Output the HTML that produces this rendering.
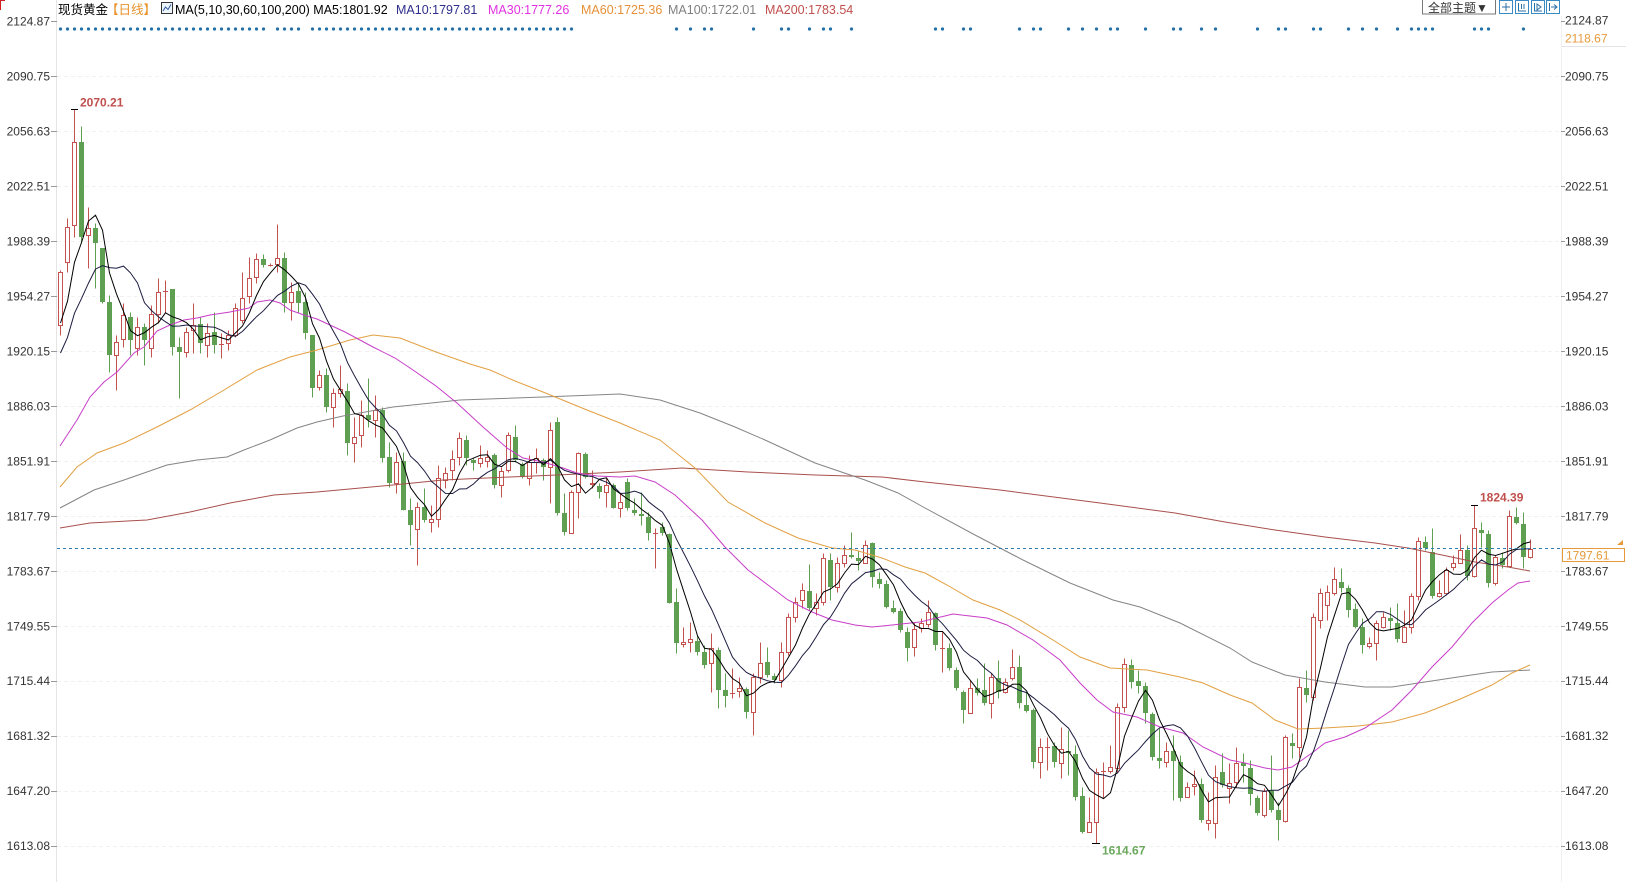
<!DOCTYPE html>
<html><head><meta charset="utf-8">
<style>
html,body{margin:0;padding:0;background:#fff;}
svg{display:block;}
text{font-family:"Liberation Sans","Noto Sans CJK SC",sans-serif;}
</style></head>
<body>
<svg id="c" width="1626" height="882" viewBox="0 0 1626 882" xmlns="http://www.w3.org/2000/svg">
<rect width="1626" height="882" fill="#fff"/>
<g id="grid" stroke="#f1f1f1" stroke-width="1" stroke-dasharray="4 3"></g>
<line x1="56.5" y1="0" x2="56.5" y2="882" stroke="#e4e4e4"/>
<line x1="1561.5" y1="16" x2="1561.5" y2="882" stroke="#f0f0f0"/>
<path d="M0 0.5H5M0.5 0V10" stroke="#d02020" stroke-width="1"/>

<!-- header -->
<text x="58" y="14" font-size="12.5" fill="#000">现货黄金</text>
<text x="106" y="14" font-size="12.5" fill="#e8922a">【日线】</text>
<rect x="161.5" y="2.5" width="11" height="11" fill="#eef4fb" stroke="#333"/>
<polyline points="163,11 165.5,7 168,9.5 171,4.5" fill="none" stroke="#2a5aa8" stroke-width="1"/>
<text x="175" y="14" font-size="12.5" fill="#000">MA(5,10,30,60,100,200) MA5:1801.92</text>
<text x="396" y="14" font-size="12.5" fill="#2e2e8e">MA10:1797.81</text>
<text x="488" y="14" font-size="12.5" fill="#e032e0">MA30:1777.26</text>
<text x="581" y="14" font-size="12.5" fill="#e69138">MA60:1725.36</text>
<text x="668" y="14" font-size="12.5" fill="#808080">MA100:1722.01</text>
<text x="765" y="14" font-size="12.5" fill="#c0504d">MA200:1783.54</text>

<!-- top right controls -->
<rect x="1422.5" y="-0.5" width="73" height="14.5" fill="#fff" stroke="#777"/>
<text x="1428" y="12" font-size="12" fill="#333">全部主题▼</text>
<g fill="#fff" stroke="#3a8ac4" stroke-width="1">
<rect x="1499.5" y="0.5" width="13" height="13"/>
<rect x="1515.5" y="0.5" width="13" height="13"/>
<rect x="1531.5" y="0.5" width="13" height="13"/>
<rect x="1546.5" y="0.5" width="13" height="13"/>
</g>
<g stroke="#2a6fa8" stroke-width="1" fill="none">
<path d="M1506 3V11M1502 7H1510"/>
<path d="M1518.5 3V11H1526M1521.5 4V9M1524 4V9"/>
<path d="M1534.5 3V11H1542M1537 4L1541 7L1537 10Z"/>
<path d="M1549.5 3V11M1551 7H1557M1554 4.5L1557 7L1554 9.5"/>
</g>

<!-- dots -->
<g id="dots" fill="#236fa6"></g>

<!-- axis labels -->
<g id="axl" font-size="12" fill="#333"></g>

<!-- candles and MAs -->
<g id="cand"></g>
<g id="mas" fill="none" stroke-width="1"></g>

<!-- current price line -->
<line x1="57" y1="548.5" x2="1562" y2="548.5" stroke="#2e7cb0" stroke-dasharray="3 3"/>
<rect x="1562.5" y="548.5" width="62" height="13" fill="#fff" stroke="#e69a3c"/>
<text x="1566" y="559.5" font-size="12" fill="#e69a3c">1797.61</text>
<path d="M1617 545L1623 540L1623 545Z" fill="#e69a3c"/>

<!-- right-top orange label -->
<line x1="1562" y1="46.5" x2="1626" y2="46.5" stroke="#e4e4e4"/>
<text x="1565" y="42.3" font-size="12" fill="#e69a3c">2118.67</text>

<!-- high/low markers -->
<path d="M71 109.5H78M1092 843.5H1100M1471 505.5H1478" stroke="#000" stroke-width="1"/>
<text x="80" y="106.5" font-size="12" font-weight="bold" fill="#c0504d">2070.21</text>
<text x="1102" y="854.5" font-size="12" font-weight="bold" fill="#6aa85c">1614.67</text>
<text x="1480" y="501.5" font-size="12" font-weight="bold" fill="#c0504d">1824.39</text>

<g font-size="12" fill="#333">
<text x="50" y="25.5" text-anchor="end">2124.87</text>
<text x="50" y="80.5" text-anchor="end">2090.75</text>
<text x="50" y="135.5" text-anchor="end">2056.63</text>
<text x="50" y="190.4" text-anchor="end">2022.51</text>
<text x="50" y="245.4" text-anchor="end">1988.39</text>
<text x="50" y="300.4" text-anchor="end">1954.27</text>
<text x="50" y="355.4" text-anchor="end">1920.15</text>
<text x="50" y="410.4" text-anchor="end">1886.03</text>
<text x="50" y="465.3" text-anchor="end">1851.91</text>
<text x="50" y="520.3" text-anchor="end">1817.79</text>
<text x="50" y="575.3" text-anchor="end">1783.67</text>
<text x="50" y="630.3" text-anchor="end">1749.55</text>
<text x="50" y="685.2" text-anchor="end">1715.44</text>
<text x="50" y="740.2" text-anchor="end">1681.32</text>
<text x="50" y="795.2" text-anchor="end">1647.20</text>
<text x="50" y="850.2" text-anchor="end">1613.08</text>
<text x="1565" y="24.5">2124.87</text>
<text x="1565" y="80.5">2090.75</text>
<text x="1565" y="135.5">2056.63</text>
<text x="1565" y="190.4">2022.51</text>
<text x="1565" y="245.4">1988.39</text>
<text x="1565" y="300.4">1954.27</text>
<text x="1565" y="355.4">1920.15</text>
<text x="1565" y="410.4">1886.03</text>
<text x="1565" y="465.3">1851.91</text>
<text x="1565" y="520.3">1817.79</text>
<text x="1565" y="575.3">1783.67</text>
<text x="1565" y="630.3">1749.55</text>
<text x="1565" y="685.2">1715.44</text>
<text x="1565" y="740.2">1681.32</text>
<text x="1565" y="795.2">1647.20</text>
<text x="1565" y="850.2">1613.08</text>
</g>
</svg>
<script>
(function(){
var TY=[21.2,76.2,131.2,186.1,241.1,296.1,351.1,406.1,461.0,516.0,571.0,626.0,680.9,735.9,790.9,845.9];
var g='';var tk='';
TY.forEach(function(y,k){var yy=Math.round(y)+0.5;
 if(k>0)g+='<line x1="57" y1="'+yy+'" x2="1561" y2="'+yy+'"/>';
 tk+='M51 '+yy+'H57M1561 '+yy+'H1565';});
document.getElementById('grid').innerHTML=g;
document.getElementById('axl').innerHTML='<path d="'+tk+'" stroke="#999" stroke-width="1"/>';

var D=[
[1,270,271.7,325,335],[1,218,226.7,261.7,272],[1,109,141.7,225,236.7],[0,126,141.7,236.7,243],[1,206.7,228,235,268],
[0,223,228,242.7,288],[0,248,248,302,303],[0,295,302,355,372],[1,335,341.7,355,390],[1,303,315,339,347],
[0,311.7,316.7,340,355],[1,317,327,348,355],[0,323,327,340,365],[1,305,314,348,357],[1,277.7,292,314,323],
[1,280,291,291,312],[0,289,289,347,355],[0,336.7,347,352,398],[1,326.7,331.7,352,356.7],[1,303,325,330,353],
[0,317,324,343,353],[1,323,332.7,345,356.7],[0,311.7,331.7,345,353],[1,333,344,344,358],[1,330,335,343,350],
[1,303,308,335,337],[1,271.7,298,320,323],[1,256.7,277.7,296,303],[1,252.7,259,276.7,282.7],[0,254,259,265,267],
[1,263,264.5,264.5,266],[1,224,257.7,264.3,271.7],[0,251.7,257.7,303,311.7],[1,281.7,291.7,302.3,320],[0,282.7,291,303,311.7],
[0,291.7,301.7,333,339],[0,335,335,387.7,396.7],
[1,370,375,387,390],[0,368,375,406.7,411.7],[1,388,392.7,406.7,426.7],[1,365,389,392.7,396.7],[0,383,391,443,455],
[1,416.7,436.7,443,461.7],[1,400,415,435,446.7],[0,378,415,420,426.7],[1,395,410,420,436.7],[0,406.7,410,458,461.7],
[0,441.7,456.7,483,486.7],[1,451.7,461.7,483,493],[0,451.7,460.7,510,510],[0,498,510,525,545],[1,501.7,507,529,565],
[0,488,506.7,520,521.7],[1,505,519,522,531.7],[1,465,478,519,526.7],[1,466.7,472.7,480,488],[1,450,459,470,480],
[1,431.7,438,457,465],[0,435,440,458,465],[0,458,460,463,470],[1,445,458,463,467],[1,450,457,460.7,467],
[0,453,455,485,488],[1,466.7,470.7,485,496.7],[1,431.7,435,470,471.7],[0,425,436.7,460,461.7],[0,461.7,464,477,478],
[1,455,461.7,478,485],[1,448,458,461.7,473],[0,458,460,466.7,480],[1,421.7,430,466.7,503],[0,416.7,421.7,513,515],
[0,493,513,531.7,535],[1,490,491.7,533.3,533.3],[1,451.7,453,491.7,518],[0,451.7,454,476.7,478],[1,470,482.7,484,488],
[0,483,486,491.7,498],[1,478,485,491.7,506.7],[0,483,485,508,508],
[1,493,501.7,508.3,516.7],[0,478,481.7,508.3,510],[0,498,510,512.7,515],[0,491.7,514,516,525],[0,511.7,516.7,533.3,540],
[1,528.3,533,533,568.3],[0,521.7,527.3,532.7,535],[0,533,534,602.7,603],[0,588.3,602.3,643.3,653.3],[1,626.7,642,644.3,646.7],
[1,621.7,639.3,641.7,651.7],[0,635,640.7,651.7,655],[0,645,651.7,665,668.3],[1,632.7,648.3,663.3,691.7],[0,646.7,650,690,708.3],
[0,673.3,690,696,706.7],[1,668.3,693,693,698.3],[1,676.7,688.3,690.7,696.7],[0,686.7,689.3,711.7,718.3],[1,673.3,676.7,711.7,735],
[1,641.7,662.7,676.7,683.3],[0,647.3,661.7,675,677.3],[0,673.3,676,680,682.7],[1,641.7,651.7,680,686.7],[1,613.3,616.7,651.7,655],
[1,596.7,601.7,616.7,621.7],[1,583.3,590,600,608.3],[0,564,590.7,608.3,610],[1,593.3,601.7,608.3,615],[1,553.3,558.3,601.7,605],
[0,553.3,560,586.7,600],[1,556.7,563.3,586.7,591.7],[1,545,555,563.3,566.7],[0,531.7,555,557.3,558.3],[0,550,558.3,560.7,570],
[1,540,545,562.7,563.3],[0,541.7,543.3,577.3,586.7],[0,571.7,579.3,584,588.3],[0,580,584,606.7,608.3],[0,600,608.3,611.7,613.3],
[0,608.3,610.7,630,631.7],[0,626.7,631.7,648.3,660.7],[1,621.7,629.3,647.3,656],[1,618.3,623.3,628.3,631.7],
[1,600,611.7,624,626.7],[0,611.7,613.3,645,650],[1,631.7,648,648,671.7],[0,643.3,648.3,668.3,670],[0,666.7,670,688.3,690],
[0,690,691.7,710,723.3],[1,680,688.3,713.3,713.3],[0,678.3,688.3,693.3,695],[0,663.3,690,703.3,705],[1,673.3,677.3,703.3,718.3],
[0,660,678.3,691.7,698.3],[1,678.3,681.7,691.7,693.3],[1,649.3,667.3,678.3,680],[0,655,667.3,702.7,708.3],[0,691.7,705,710.7,711.7],
[0,708.3,710,761.7,768.3],[1,738.3,746.7,761.7,778.3],[1,736.7,746.5,746.5,770],[0,741.7,746,761.7,766.7],[1,726.7,749.3,763.3,778.3],
[0,730,750.7,752.7,775],[0,745,754,796.7,800],[0,786.7,796,831.7,833.3],[1,796.7,821.7,831.7,831.7],[1,768.3,771.7,821.7,843.3],
[1,761.7,771,771,798.3],[1,745,767.3,770.7,773.3],[1,703.3,706.7,768.3,773.3],[1,658.3,664,706.7,711.7],[0,659.3,665,681.7,688.3],
[0,670,680.7,686,693.3],[0,681.7,686,713.3,723.3],[0,711.7,714,756.7,760],[0,728.3,758.3,760.7,768.3],[1,741.7,750.7,761.7,766.7],
[0,735,750.7,760.7,800],[0,755,761.7,798.3,800.7],[1,781.7,787.3,796.7,796.7],[1,770,784,786,795],[0,778.3,784,820,821.7],
[1,791.7,820,822.7,830],[1,765,777.3,823.3,838.3],[0,753.3,771.7,785,786.7],
[1,763.3,782.7,788.3,803.3],[1,746.7,762.7,781.7,786.7],[0,753.3,763.3,766,781.7],[0,760,767.7,794,805],[0,795,798.3,813.3,815],
[1,788.3,790.7,815,816.7],[0,755,790,810,811.7],[0,801.7,810,820,840],[1,735,736.7,820.7,821.7],[0,733.3,743.3,746,758.3],
[1,678.3,687.3,746.7,756.7],[0,670,688.3,695,701.7],[1,613.3,616.7,696.7,700],[1,588.3,593.3,620,628.3],[1,585,591.7,605,620],
[1,566.7,579.3,592.7,595],[0,568.3,581.7,588.3,591.7],[0,585,588.3,610,616.7],[0,603.3,609.3,627.3,628.3],[0,618.3,626.7,645,653.3],
[1,636.7,642.7,646,648.3],[1,620,622.7,642.7,660],[1,611.7,616.7,626.7,628.3],[0,606.7,618.3,620.7,630],[0,603.3,622.7,639.3,641.7],
[1,610,626.7,641.7,641.7],[1,592.7,596,626.7,633.3],[1,536.7,540.7,596,600],[0,536,541.7,548.3,550],[0,528.3,551.7,596,598.3],
[1,580,592.7,596,596.7],[1,566.7,570,592.7,595],[1,555,563.3,567.3,570],[1,534,550,562.7,563.3],[0,545,550,576,580],
[1,505,528.3,576,576.7],[0,521.7,530,533.3,546.7],[0,530,534,582.7,586.7],[1,555,557.3,582.7,585],[0,551.7,558.3,565,568.3],
[1,510,516,566,566.7],[0,506.7,517.3,522.7,524],[0,511.7,524,557.3,568.3],[1,539.3,548.5,557.3,558.3]
];
var R='#c4534f',G='#5e9f52';
var wr='',wg='',br='',bf='',bg='';
var closes=[];
D.forEach(function(d,i){
 var x=60.5+i*7,t=d[0],h=Math.round(d[1])+0.5,a=Math.round(d[2]),b=Math.round(d[3]),l=Math.round(d[4])+0.5;
 closes.push(t?d[2]:d[3]);
 var w='M'+x+' '+h+'V'+l;
 if(t)wr+=w;else wg+=w;
 if(t){
  if(b-a<1){bf+='M'+(x-2.5)+' '+(a+0.5)+'H'+(x+2.5);}
  else{br+='M'+(x-2)+' '+(a+0.5)+'H'+(x+2)+'V'+(b+0.5)+'H'+(x-2)+'Z';}
 }else{
  var hh=Math.max(1,b-a);
  bg+='M'+(x-2.5)+' '+a+'h5v'+hh+'h-5Z';
 }
});
var s='';
s+='<path d="'+wr+'" stroke="'+R+'" stroke-width="1"/>';
s+='<path d="'+wg+'" stroke="'+G+'" stroke-width="1"/>';
s+='<path d="'+br+'" fill="#fff" stroke="'+R+'" stroke-width="1"/>';
s+='<path d="'+bf+'" stroke="'+R+'" stroke-width="1"/>';
s+='<path d="'+bg+'" fill="'+G+'"/>';
document.getElementById('cand').innerHTML=s;

var pre=[383,383,383,383,383,335.8,335.8,335.8,335.8];
var arr=pre.concat(closes);
var m5=[],m10=[];
for(var i=0;i<closes.length;i++){
 var j=i+9,s5=0,s10=0;
 for(var k=0;k<5;k++)s5+=arr[j-k];
 for(k=0;k<10;k++)s10+=arr[j-k];
 var x=60.5+i*7;
 m5.push(x+','+(s5/5).toFixed(1));m10.push(x+','+(s10/10).toFixed(1));
}
function pl(p){return p.map(function(q){return q[0]+','+q[1];}).join(' ');}
var MA30=[[60,446],[77,420],[90,397],[104,382],[117,372],[134,353],[144,347],[157,331],[170,325],[184,320],[197,318],[210,315],[230,312],[249,308],[257,302],[270,300],[280,303],[290,310],[304,315],[317,319],[345,332],[373,347],[395,358],[413,370],[436,386],[457,403],[483,427],[507,448],[523,458],[543,462],[563,468],[577,473],[597,476],[620,477],[635,476],[655,482],[675,495],[702,520],[725,547],[748,570],[768,585],[788,600],[812,612],[832,620],[855,625],[872,627],[892,625],[920,622],[953,614],[987,618],[1007,625],[1033,640],[1060,660],[1080,683],[1097,700],[1113,712],[1137,717],[1160,727],[1183,733],[1203,747],[1230,760],[1245,763],[1265,768],[1278,770],[1292,767],[1312,753],[1325,743],[1345,737],[1365,728],[1392,710],[1412,690],[1432,667],[1452,647],[1472,623],[1492,603],[1508,590],[1518,583],[1530,581]];
var MA60=[[60,487],[77,467],[97,453],[124,443],[157,427],[190,410],[224,390],[257,370],[290,357],[317,350],[350,340],[373,335],[400,338],[436,352],[470,364],[490,370],[515,381],[543,392],[587,410],[620,423],[660,440],[695,468],[728,502],[765,523],[798,538],[832,548],[855,550],[882,558],[905,567],[925,573],[947,585],[973,600],[1000,610],[1020,620],[1053,640],[1080,657],[1110,668],[1147,670],[1180,677],[1203,683],[1230,695],[1252,703],[1275,720],[1298,729],[1325,728],[1358,726],[1392,722],[1425,713],[1458,700],[1492,685],[1512,673],[1530,665]];
var MA100=[[60,508],[94,490],[124,480],[167,465],[197,460],[227,457],[244,450],[270,440],[297,428],[317,422],[343,416],[393,407],[460,400],[543,397],[620,394],[660,400],[700,413],[735,427],[765,440],[815,463],[865,480],[898,493],[925,508],[975,535],[1023,560],[1070,583],[1113,600],[1140,607],[1180,623],[1230,648],[1252,662],[1285,675],[1325,682],[1365,687],[1392,687],[1425,682],[1458,677],[1492,672],[1530,670]];
var MA200=[[60,528],[90,523],[147,520],[190,512],[230,503],[274,495],[317,492],[393,485],[443,480],[510,477],[557,475],[620,472],[682,468],[748,472],[815,475],[882,477],[925,482],[1000,490],[1100,503],[1175,513],[1225,522],[1275,530],[1325,537],[1375,543],[1408,548],[1442,555],[1475,562],[1508,567],[1530,571]];
var m='';
m+='<polyline points="'+pl(MA200)+'" stroke="#a8504c"/>';
m+='<polyline points="'+pl(MA100)+'" stroke="#858585"/>';
m+='<polyline points="'+pl(MA60)+'" stroke="#e2a042"/>';
m+='<polyline points="'+pl(MA30)+'" stroke="#c83ec8"/>';
m+='<polyline points="'+m10.join(' ')+'" stroke="#1c1c40"/>';
m+='<polyline points="'+m5.join(' ')+'" stroke="#000"/>';
document.getElementById('mas').innerHTML=m;

var dots=[];
for(i=1;i<=30;i++)dots.push(i);
for(i=32;i<=35;i++)dots.push(i);
for(i=37;i<=74;i++)dots.push(i);
dots=dots.concat([89,91,93,94,100,104,105,108,110,111,114,126,127,130,131,138,140,141,145,147,149,151,152,156,160,161,164,166,172,175,176,180,181,185,187,189,192,194,195,196,197,203,204,205,210]);
var dd='';
dots.forEach(function(n){var x=60.5+(n-1)*7;dd+='<circle cx="'+x+'" cy="29" r="1.6"/>';});
document.getElementById('dots').innerHTML=dd;
})();
</script>
</body></html>
